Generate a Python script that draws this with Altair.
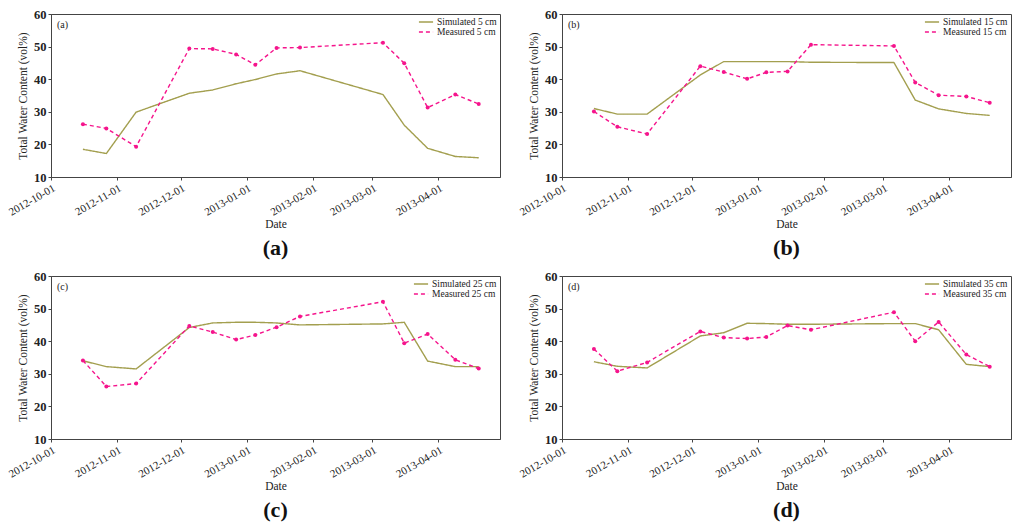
import altair as alt
import pandas as pd

dates = ["2012-10-16", "2012-10-27", "2012-11-10", "2012-12-05", "2012-12-16",
         "2012-12-27", "2013-01-05", "2013-01-15", "2013-01-26", "2013-03-06",
         "2013-03-16", "2013-03-27", "2013-04-09", "2013-04-20"]

sim_5 = [18.5, 17.2, 29.9, 35.7, 36.7, 38.6, 39.9, 41.6, 42.6, 35.3, 25.9, 18.8, 16.3, 15.9]
meas_5 = [26.2, 24.9, 19.3, 49.4, 49.3, 47.6, 44.4, 49.6, 49.7, 51.2, 44.9, 31.3, 35.3, 32.4]

sim_15 = [31.0, 29.3, 29.3, 41.3, 45.4, 45.4, 45.4, 45.4, 45.2, 45.1, 33.6, 30.9, 29.5, 28.9]
meas_15 = [30.1, 25.4, 23.2, 44.0, 42.2, 40.1, 42.1, 42.4, 50.6, 50.2, 39.0, 35.1, 34.7, 32.8]

sim_25 = [34.0, 32.2, 31.5, 44.2, 45.6, 45.8, 45.8, 45.6, 45.0, 45.3, 45.8, 33.9, 32.2, 32.2]
meas_25 = [34.1, 26.1, 27.0, 44.7, 42.8, 40.5, 41.9, 44.3, 47.6, 52.1, 39.4, 42.2, 34.3, 31.6]

sim_35 = [33.7, 32.3, 31.8, 41.6, 42.6, 45.5, 45.4, 45.2, 45.2, 45.4, 45.4, 43.5, 32.9, 32.2]
meas_35 = [37.6, 30.8, 33.5, 43.0, 41.1, 40.8, 41.3, 44.8, 43.5, 48.9, 40.0, 45.9, 35.9, 32.2]

month_ticks = ["2012-10-01", "2012-11-01", "2012-12-01", "2013-01-01",
               "2013-02-01", "2013-03-01", "2013-04-01"]
y_ticks = [10, 20, 30, 40, 50, 60]

panels = [("a", "5", sim_5, meas_5), ("b", "15", sim_15, meas_15),
          ("c", "25", sim_25, meas_25), ("d", "35", sim_35, meas_35)]

SIM_COLOR = "#a39f4f"
MEAS_COLOR = "#f5148c"
FONT = "Liberation Serif"
W, H = 449, 163


def panel(letter, depth, sim, meas):
    sim_name = f"Simulated {depth} cm"
    meas_name = f"Measured {depth} cm"
    df = pd.DataFrame({
        "date": dates * 2,
        "value": sim + meas,
        "series": [sim_name] * len(dates) + [meas_name] * len(dates),
    })
    dfm = pd.DataFrame({"date": dates, "value": meas})

    x = alt.X("date:T", title="Date",
              scale=alt.Scale(domain=["2012-10-01", "2013-04-30"]),
              axis=alt.Axis(format="%Y-%m-%d", labelAngle=-30, values=month_ticks,
                            labelFont=FONT, titleFont=FONT,
                            labelFontSize=11, titleFontSize=11.5, titlePadding=1,
                            titleFontWeight="normal",
                            labelOverlap=False, tickSize=3, grid=False))
    y = alt.Y("value:Q", title="Total Water Content (vol%)",
              scale=alt.Scale(domain=[10, 60], nice=False, zero=False),
              axis=alt.Axis(values=y_ticks, labelFont=FONT, titleFont=FONT,
                            labelFontSize=12.5, labelFontWeight="bold",
                            titleFontSize=11.5, titlePadding=5, titleFontWeight="normal",
                            labelOverlap=False, tickSize=3, grid=False))

    lines = alt.Chart(df).mark_line(strokeWidth=1.4).encode(
        x=x, y=y,
        color=alt.Color("series:N", title=None,
                        scale=alt.Scale(domain=[sim_name, meas_name], range=[SIM_COLOR, MEAS_COLOR]),
                        legend=alt.Legend(orient="top-right", offset=3, symbolType="stroke",
                                          labelFont=FONT, labelFontSize=9.5, symbolSize=200,
                                          symbolStrokeWidth=1.4, rowPadding=0, clipHeight=10,
                                          labelOffset=3, labelColor="#222")),
        strokeDash=alt.StrokeDash("series:N", title=None,
                                  scale=alt.Scale(domain=[sim_name, meas_name], range=[[1, 0], [4, 3]])),
    )
    pts = alt.Chart(dfm).mark_point(filled=True, size=16, opacity=1, color=MEAS_COLOR).encode(
        x=x, y=y)
    tag = alt.Chart(pd.DataFrame({"t": [f"({letter})"]})).mark_text(
        font=FONT, fontSize=10, align="left", baseline="middle", color="#222"
    ).encode(text="t:N", x=alt.value(6), y=alt.value(11))

    return alt.layer(lines, pts, tag).properties(
        width=W, height=H,
        title=alt.TitleParams(f"({letter})", orient="bottom", anchor="middle",
                              font=FONT, fontSize=22, fontWeight="bold", offset=8, color="#111"),
    )


charts = [panel(*p) for p in panels]


def row(a, b):
    return alt.hconcat(a, b, spacing=16).resolve_scale(
        color="independent", strokeDash="independent").resolve_legend(
        color="independent", strokeDash="independent")


chart = alt.vconcat(row(charts[0], charts[1]), row(charts[2], charts[3]), spacing=9).resolve_scale(
    color="independent", strokeDash="independent"
).resolve_legend(
    color="independent", strokeDash="independent"
).properties(padding={"top": -1, "left": -2, "right": 0, "bottom": 0},
             background="white").configure_view(
    stroke="#444", strokeWidth=1
).configure_axis(
    domainColor="#444", tickColor="#444", labelColor="#222", titleColor="#222"
)

chart.save("out.html", embed_options={"renderer": "svg", "actions": False})
